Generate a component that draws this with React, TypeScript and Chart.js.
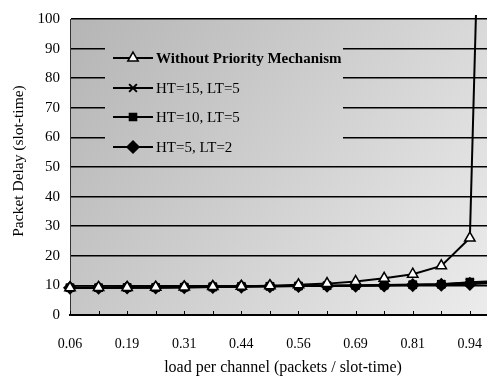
import React, { useEffect, useRef } from "react";
import { Chart, registerables } from "chart.js";
import { drawPoint } from "chart.js/helpers";

Chart.register(...registerables);

const loads = [0.0625, 0.125, 0.1875, 0.25, 0.3125, 0.375, 0.4375, 0.5, 0.5625, 0.625, 0.6875, 0.75, 0.8125, 0.875, 0.9375, 1.0];
const xTickLabels = ["0.06", "0.19", "0.31", "0.44", "0.56", "0.69", "0.81", "0.94"];
const withoutPriority = [9.2, 9.3, 9.3, 9.4, 9.5, 9.6, 9.7, 9.9, 10.2, 10.6, 11.3, 12.4, 13.8, 16.6, 26.0, 380];
const ht15lt5 = [9.2, 9.2, 9.3, 9.3, 9.4, 9.5, 9.6, 9.7, 9.8, 9.9, 10.0, 10.1, 10.2, 10.4, 10.9, 11.3];
const ht10lt5 = [9.2, 9.2, 9.3, 9.3, 9.4, 9.5, 9.6, 9.7, 9.8, 9.9, 10.0, 10.1, 10.2, 10.4, 11.1, 11.5];
const ht5lt2 = [9.2, 9.2, 9.3, 9.3, 9.4, 9.5, 9.6, 9.7, 9.8, 9.9, 9.9, 10.0, 10.1, 10.2, 10.5, 10.8];
const seriesLabels = ["Without Priority Mechanism", "HT=15, LT=5", "HT=10, LT=5", "HT=5, LT=2"];
const yTitle = "Packet Delay (slot-time)";
const xTitle = "load per channel (packets / slot-time)";

const SERIF = "'Liberation Serif', 'DejaVu Serif', serif";

function makeGradient(ctx: CanvasRenderingContext2D, area: any) {
  const g = ctx.createLinearGradient(area.left, area.top, area.right, area.bottom);
  g.addColorStop(0, "#b5b5b5");
  g.addColorStop(0.5, "#d0d0d0");
  g.addColorStop(1, "#ececec");
  return g;
}

const decorPlugin = {
  id: "decor",
  beforeDraw(chart: any) {
    const { ctx, chartArea } = chart;
    ctx.save();
    ctx.fillStyle = makeGradient(ctx, chartArea);
    ctx.fillRect(chartArea.left, chartArea.top, chartArea.right - chartArea.left, chartArea.bottom - chartArea.top);
    ctx.restore();
  },
  afterDraw(chart: any) {
    const { ctx, chartArea, scales } = chart;
    ctx.save();
    ctx.strokeStyle = "#000";
    ctx.lineWidth = 1;
    scales.x.ticks.forEach((t: any) => {
      const px = Math.round(scales.x.getPixelForValue(t.value)) + 0.5;
      ctx.beginPath();
      ctx.moveTo(px, chartArea.bottom);
      ctx.lineTo(px, chartArea.bottom - 4);
      ctx.stroke();
    });

    ctx.fillStyle = makeGradient(ctx, chartArea);
    ctx.fillRect(105, 24, 238, 134);

    const rowsY = [58, 88, 117, 147];
    chart.data.datasets.forEach((ds: any, i: number) => {
      const y = rowsY[i];
      ctx.strokeStyle = "#000";
      ctx.lineWidth = 2;
      ctx.beginPath();
      ctx.moveTo(113, y);
      ctx.lineTo(153, y);
      ctx.stroke();
      ctx.fillStyle = ds.pointBackgroundColor;
      ctx.strokeStyle = "#000";
      ctx.lineWidth = ds.pointBorderWidth;
      drawPoint(ctx, { pointStyle: ds.pointStyle, radius: ds.pointRadius, rotation: 0, borderWidth: ds.pointBorderWidth }, 133, y);
      ctx.fillStyle = "#000";
      ctx.font = (i === 0 ? "bold " : "") + "15px " + SERIF;
      ctx.textAlign = "left";
      ctx.textBaseline = "middle";
      ctx.fillText(ds.label, 156, y + 1);
    });

    ctx.fillStyle = "#000";
    ctx.font = "16px " + SERIF;
    ctx.textAlign = "center";
    ctx.textBaseline = "middle";
    ctx.fillText(xTitle, 283, 368);
    ctx.save();
    ctx.translate(19, 161);
    ctx.rotate(-Math.PI / 2);
    ctx.font = "15.5px " + SERIF;
    ctx.fillText(yTitle, 0, 0);
    ctx.restore();
    ctx.restore();
  },
};

export default function App() {
  const ref = useRef<HTMLCanvasElement>(null);
  useEffect(() => {
    if (!ref.current) return;
    const mk = (label: string, data: number[], style: string, radius: number, fill: string, bw: number) => ({
      label,
      data: loads.map((x, i) => ({ x, y: data[i] })),
      borderColor: "#000",
      borderWidth: 2,
      pointStyle: style,
      pointRadius: radius,
      pointBackgroundColor: fill,
      pointBorderColor: "#000",
      pointBorderWidth: bw,
      tension: 0,
      clip: { left: 8, top: 4, right: 0, bottom: 8 },
    });
    const chart = new Chart(ref.current, {
      type: "line",
      data: {
        datasets: [
          mk(seriesLabels[0], withoutPriority, "triangle", 6, "#ffffff", 1.5),
          mk(seriesLabels[1], ht15lt5, "crossRot", 5.5, "#000000", 2),
          mk(seriesLabels[2], ht10lt5, "rect", 5, "#000000", 1.5),
          mk(seriesLabels[3], ht5lt2, "rectRot", 6, "#000000", 1.5),
        ],
      } as any,
      options: {
        animation: false,
        responsive: false,
        maintainAspectRatio: false,
        layout: { autoPadding: false, padding: { top: 16, right: 0, left: 0, bottom: 0 } },
        plugins: { legend: { display: false }, tooltip: { enabled: false } },
        scales: {
          x: {
            type: "linear",
            min: 0.0625,
            max: 0.975,
            afterFit: (s: any) => { s.height = 61; s.paddingRight = 0; s.paddingLeft = 0; },
            afterBuildTicks: (axis: any) => {
              axis.ticks = loads.filter((v) => v <= 0.975).map((v) => ({ value: v }));
            },
            grid: { display: false },
            border: { display: true, color: "#000", width: 2 },
            ticks: {
              padding: 13,
              maxRotation: 0,
              autoSkip: false,
              color: "#000",
              font: { family: SERIF, size: 14 },
              callback: (_v: any, i: number) => (i % 2 === 0 ? xTickLabels[i / 2] : ""),
            },
          },
          y: {
            min: 0,
            max: 100,
            afterFit: (s: any) => { s.width = 70; },
            grid: { color: "#000", lineWidth: 1.5, drawTicks: false },
            border: { display: true, color: "#333", width: 1 },
            ticks: {
              stepSize: 10,
              padding: 10,
              color: "#000",
              font: { family: SERIF, size: 15 },
            },
          },
        },
      } as any,
      plugins: [decorPlugin],
    });
    return () => chart.destroy();
  }, []);
  return (
    <div style={{ position: "absolute", left: 0, top: 0, width: 487, height: 376, background: "#fff" }}>
      <canvas ref={ref} width={487} height={376} style={{ display: "block" }} />
    </div>
  );
}
